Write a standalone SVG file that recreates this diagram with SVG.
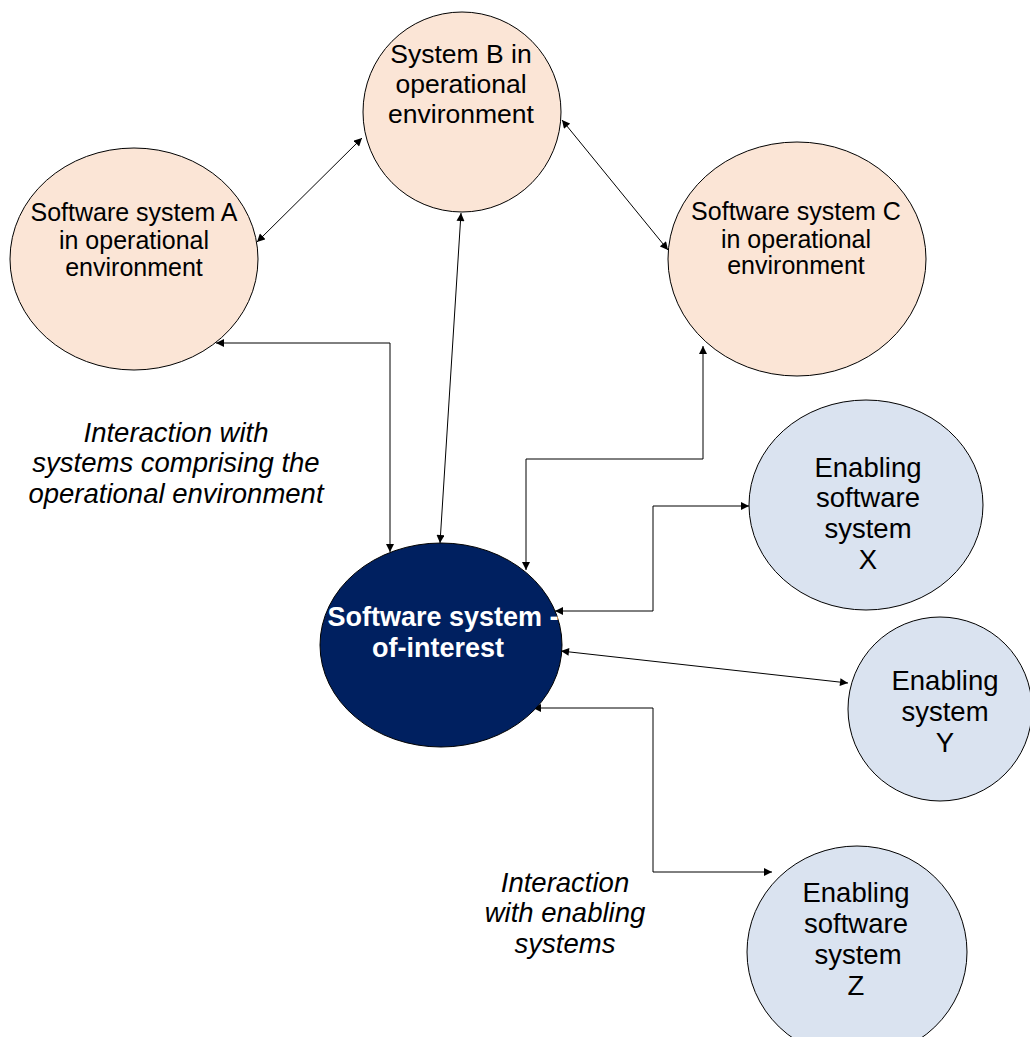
<svg xmlns="http://www.w3.org/2000/svg" width="1030" height="1037" viewBox="0 0 1030 1037">
<style>
.peach{fill:#FBE5D6;stroke:#000;stroke-width:1}
.blue{fill:#DAE3F0;stroke:#000;stroke-width:1}
.navy{fill:#002060;stroke:#000;stroke-width:1}
.t{font-family:"Liberation Sans",Arial,sans-serif;fill:#000;text-anchor:middle}
.w{font-family:"Liberation Sans",Arial,sans-serif;fill:#fff;font-weight:bold;text-anchor:middle}
.i{font-family:"Liberation Sans",Arial,sans-serif;fill:#000;font-style:italic;text-anchor:middle;font-size:27.5px}
.c{fill:none;stroke:#000;stroke-width:1;marker-end:url(#ah);marker-start:url(#ah)}
</style>
<defs>
<marker id="ah" viewBox="0 0 10 10" refX="10" refY="5" markerWidth="9" markerHeight="8" markerUnits="userSpaceOnUse" orient="auto-start-reverse">
<path d="M0,0 L10,5 L0,10 z" fill="#000"/>
</marker>
</defs>
<rect width="1030" height="1037" fill="#fff"/>
<g id="connectors">
<line class="c" x1="257" y1="242" x2="362" y2="138"/>
<line class="c" x1="562" y1="120" x2="668" y2="250"/>
<line class="c" x1="461" y1="213" x2="440" y2="543"/>
<polyline class="c" points="216,343 390,343 390,552"/>
<polyline class="c" points="703,346 703,459 526,459 526,570"/>
<polyline class="c" points="555,611 653,611 653,506 749,506"/>
<line class="c" x1="561" y1="651" x2="848" y2="683"/>
<polyline class="c" points="533,708 653,708 653,872 772,872"/>
</g>
<g id="nodeA">
<ellipse class="peach" cx="134" cy="259" rx="124" ry="111"/>
<text class="t" font-size="25"><tspan x="134" y="221">Software system A</tspan><tspan x="134" y="249">in operational</tspan><tspan x="134" y="276">environment</tspan></text>
</g>
<g id="nodeB">
<ellipse class="peach" cx="462" cy="112" rx="99" ry="100"/>
<text class="t" font-size="26.5"><tspan x="461" y="63">System B in</tspan><tspan x="461" y="93">operational</tspan><tspan x="461" y="123">environment</tspan></text>
</g>
<g id="nodeC">
<ellipse class="peach" cx="797" cy="259" rx="129" ry="117"/>
<text class="t" font-size="25"><tspan x="796" y="220">Software system C</tspan><tspan x="796" y="248">in operational</tspan><tspan x="796" y="274">environment</tspan></text>
</g>
<g id="nodeSoI">
<ellipse class="navy" cx="441" cy="645" rx="121" ry="102"/>
<text class="w" font-size="27"><tspan x="443" y="626">Software system -</tspan><tspan x="438" y="657">of-interest</tspan></text>
</g>
<g id="nodeX">
<ellipse class="blue" cx="866" cy="505" rx="117" ry="105"/>
<text class="t" font-size="27.5"><tspan x="868" y="477">Enabling</tspan><tspan x="868" y="507">software</tspan><tspan x="868" y="538">system</tspan><tspan x="868" y="569">X</tspan></text>
</g>
<g id="nodeY">
<ellipse class="blue" cx="940" cy="709" rx="92" ry="92"/>
<text class="t" font-size="27.5"><tspan x="945" y="690">Enabling</tspan><tspan x="945" y="721">system</tspan><tspan x="945" y="752">Y</tspan></text>
</g>
<g id="nodeZ">
<ellipse class="blue" cx="857" cy="952" rx="110" ry="106"/>
<text class="t" font-size="27.5"><tspan x="856" y="902">Enabling</tspan><tspan x="856" y="933">software</tspan><tspan x="858" y="964">system</tspan><tspan x="856" y="995">Z</tspan></text>
</g>
<g id="labels">
<text class="i"><tspan x="176" y="442">Interaction with</tspan><tspan x="176" y="472">systems comprising the</tspan><tspan x="176" y="503">operational environment</tspan></text>
<text class="i"><tspan x="565" y="892">Interaction</tspan><tspan x="565" y="922">with enabling</tspan><tspan x="565" y="953">systems</tspan></text>
</g>
</svg>
